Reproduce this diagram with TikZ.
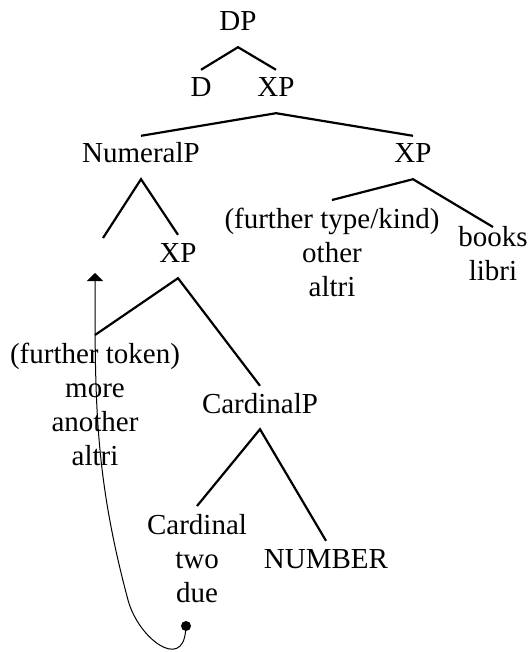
\documentclass[tikz,border=0pt]{standalone}
\usepackage{fontspec}
\setmainfont{Liberation Serif}
\usetikzlibrary{arrows.meta}

\tikzset{
  lbl/.style={font=\fontsize{29}{34}\selectfont, inner xsep=2pt, inner ysep=8pt},
  cat/.style={lbl, anchor=base, text height=19pt, text depth=8pt},
  words/.style={lbl, anchor=north, align=center},
  branch/.style={line width=2.2pt},
  move/.style={line width=1pt, -{Triangle[width=16pt,length=8pt]}}
}

\begin{document}
\begin{tikzpicture}[x=1pt,y=1pt]
\useasboundingbox (0,0) rectangle (530,-652);
\node[cat] (dp) at (238,-31) {DP};
\node[cat] (d) at (201,-97) {D};
\node[cat] (xpa) at (276,-97) {XP};
\node[cat] (numeralp) at (141,-163) {NumeralP};
\node[cat] (xpb) at (413,-163) {XP};
\node[cat] (xpc) at (178,-262) {XP};
\node[cat] (cardinalp) at (260,-413) {CardinalP};
\node[cat] (number) at (326,-568) {NUMBER};
\node[words] (type) at (332,-200) {(further type/kind)\\other\\altri};
\node[words] (books) at (493,-218) {books\\libri};
\node[words] (token) at (95,-335) {(further token)\\more\\another\\altri};
\node[words] (cardinal) at (197,-506) {Cardinal\\two\\due};
\coordinate (gap) at (103,-238);
\coordinate (trace) at (95,-273);
\coordinate (bend) at (128,-600);
\node[circle, fill, inner sep=0pt, minimum size=10pt] (dot) at (186,-626) {};

\draw[branch] (d.north) -- (dp.south) -- (xpa.north);
\draw[branch] (numeralp.north) -- (xpa.south) -- (xpb.north);
\draw[branch] (gap) -- (numeralp.south) -- (xpc.north);
\draw[branch] (type.north) -- (xpb.south) -- ([yshift=-9pt]books.north);
\draw[branch] (token.north) -- (xpc.south) -- (cardinalp.north);
\draw[branch] (cardinal.north) -- (cardinalp.south) -- (number.north);
\draw[move] (dot) to[out=-95, in=-75, looseness=1.55] (bend) to[out=105, in=-90] (trace);
\end{tikzpicture}
\end{document}
